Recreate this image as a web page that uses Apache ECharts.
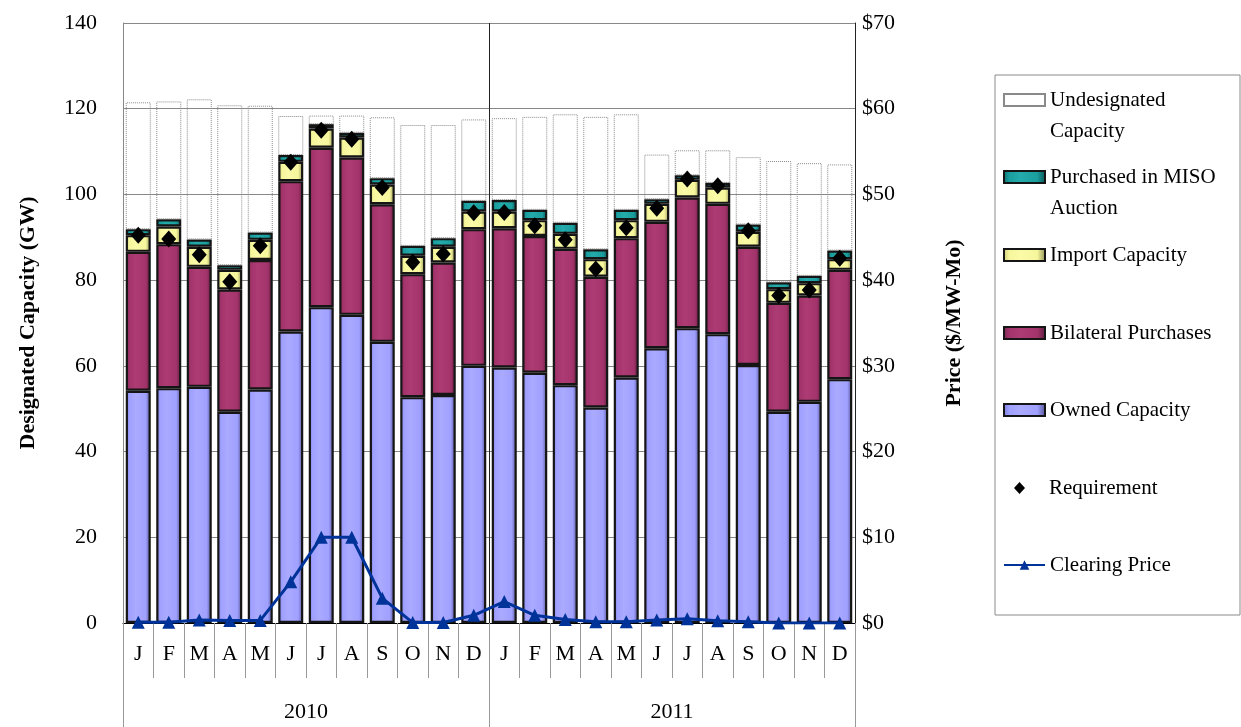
<!DOCTYPE html>
<html>
<head>
<meta charset="utf-8">
<script src="https://cdn.jsdelivr.net/npm/echarts@6/dist/echarts.min.js"></script>
<style>html,body{margin:0;padding:0;background:#fff}#c{width:1241px;height:727px}</style>
</head>
<body>
<div id="c"></div>
<script>
const months = ['J','F','M','A','M','J','J','A','S','O','N','D','J','F','M','A','M','J','J','A','S','O','N','D'];
const years = ['2010','2011'];
const leftTicks = [0,20,40,60,80,100,120,140];
const owned = [54.2,54.8,55.1,49.3,54.5,68.0,73.7,71.9,65.6,52.7,53.2,60.0, 59.6,58.4,55.5,50.3,57.3,64.1,68.8,67.4,60.2,49.3,51.6,56.9];
const bilateral = [32.4,33.6,28.0,28.5,30.2,35.1,37.2,36.7,32.1,28.7,30.9,31.9, 32.5,31.9,31.8,30.5,32.5,29.5,30.5,30.4,27.6,25.4,24.8,25.5];
const importCap = [3.9,4.1,4.7,4.6,4.7,4.5,4.5,4.7,4.6,4.3,3.7,4.1, 3.9,3.7,3.5,4.1,4.2,4.2,4.1,3.8,3.5,3.2,2.9,2.5];
const misoAuction = [1.4,1.7,1.7,1.1,1.7,1.6,1.0,1.1,1.5,2.3,2.0,2.5, 2.7,2.4,2.6,2.3,2.4,1.1,1.1,1.1,1.7,1.6,1.7,2.0];
const undesignated = [29.6,27.5,32.7,37.3,29.6,9.1,2.0,4.0,14.2,28.2,26.4,19.0, 19.1,21.7,25.3,30.9,22.3,10.4,5.8,7.6,15.7,28.3,26.3,20.1];
const requirement = [90.5,89.6,85.9,79.6,88.0,107.5,115.0,112.9,101.6,84.2,86.1,95.7, 95.8,92.7,89.4,82.6,92.2,96.8,103.6,102.0,91.5,76.4,77.7,85.1];
const clearingPrice = [0.1,0.1,0.35,0.3,0.3,4.8,10,10,2.9,0.05,0.05,0.9, 2.5,0.9,0.4,0.15,0.15,0.35,0.5,0.27,0.15,0,0,0];

const FONT = 'Liberation Serif';
function grad(edge, base, light, dark) {
  return {type:'linear', x:0, y:0, x2:1, y2:0, colorStops:[
    {offset:0, color:edge},{offset:0.15, color:base},{offset:0.4, color:light},
    {offset:0.8, color:base},{offset:1, color:dark}]};
}
function barSeries(name, data, color) {
  return {name, type:'bar', stack:'cap', data, barWidth:25, xAxisIndex:0, yAxisIndex:0,
    itemStyle:{color, borderColor:'#151515', borderWidth:2.2}, emphasis:{disabled:true}};
}
const series = [
  barSeries('Owned Capacity', owned, grad('#7a7ad8','#a0a0ff','#aaaaff','#50508c')),
  barSeries('Bilateral Purchases', bilateral, grad('#7a2550','#a3346b','#ad3b74','#5a1c3c')),
  barSeries('Import Capacity', importCap, grad('#c8c878','#f6f69c','#fbfba8','#8a8a55')),
  barSeries('Purchased in MISO Auction', misoAuction, grad('#0a6e6e','#1a9e9e','#24abab','#0a4f4f')),
  {name:'Undesignated Capacity', type:'bar', stack:'cap', data:undesignated, barWidth:25,
    itemStyle:{color:'rgba(255,255,255,0)', borderColor:'#8a8a8a', borderWidth:1, borderType:'dotted'}},
  {name:'Requirement', type:'scatter', data:requirement, symbol:'diamond', symbolSize:[15,17],
    itemStyle:{color:'#000', opacity:1}, z:5},
  {name:'Clearing Price', type:'line', yAxisIndex:1, data:clearingPrice, symbol:'triangle', symbolSize:13,
    lineStyle:{color:'#003399', width:3}, itemStyle:{color:'#003399'}, z:6}
];

const legendItems = [
  {name:'Undesignated Capacity', text:' \nUndesignated\nCapacity', cy:100, multi:true},
  {name:'Purchased in MISO Auction', text:' \nPurchased in MISO\nAuction', cy:177, multi:true},
  {name:'Import Capacity', text:'Import Capacity', cy:255},
  {name:'Bilateral Purchases', text:'Bilateral Purchases', cy:333},
  {name:'Owned Capacity', text:'Owned Capacity', cy:410},
  {name:'Requirement', text:'Requirement', cy:488},
  {name:'Clearing Price', text:'Clearing Price', cy:565}
];
const LH = 31;
const legends = legendItems.map(it => ({
  data:[it.name], left:1003, top: it.multi ? it.cy - 1.5*LH : it.cy - 0.5*LH,
  padding:0, itemWidth:41, itemHeight:12, selectedMode:false,
  icon: it.name==='Clearing Price' ? undefined : (it.name==='Requirement' ? 'diamond' : 'rect'),
  formatter: () => it.text,
  textStyle:{fontFamily:FONT, fontSize:21, color:'#000', lineHeight:LH}
}));
legends[5].left = 1014;
legends[5].itemWidth = 11;
legends[5].itemHeight = 12;
legends[5].textStyle = Object.assign({}, legends[5].textStyle, {padding:[0,0,0,19]});

const chart = echarts.init(document.getElementById('c'), null, {renderer:'canvas'});
chart.setOption({
  animation:false,
  backgroundColor:'#fff',
  graphic:[{type:'rect', shape:{x:995, y:75, width:245, height:540}, style:{fill:'#fff', stroke:'#8a8a8a', lineWidth:1}, z:-1, silent:true}],
  legend: legends,
  grid:{left:123, right:386, top:23, bottom:104, containLabel:false},
  xAxis:[
    {type:'category', data:months, position:'bottom',
      axisLine:{show:true, lineStyle:{color:'#000', width:1}},
      axisTick:{show:true, interval:0, length:55, lineStyle:{color:'#999'}},
      axisLabel:{interval:0, margin:20, fontFamily:FONT, fontSize:22, color:'#000'},
      splitLine:{show:false}},
    {type:'category', data:years, position:'bottom',
      axisLine:{show:false},
      axisTick:{show:true, interval:0, length:104, lineStyle:{color:'#999'}},
      axisLabel:{interval:0, margin:78, fontFamily:FONT, fontSize:22, color:'#000'},
      splitLine:{show:true, interval:0, lineStyle:{color:'#222', width:1}}}
  ],
  yAxis:[
    {type:'value', min:leftTicks[0], max:leftTicks[leftTicks.length-1], interval:20, position:'left',
      name:'Designated Capacity (GW)', nameLocation:'middle', nameGap:84, nameRotate:90,
      nameTextStyle:{fontFamily:FONT, fontSize:22, fontWeight:'bold', color:'#000'},
      axisLine:{show:true, lineStyle:{color:'#888'}}, axisTick:{show:false},
      axisLabel:{margin:26, fontFamily:FONT, fontSize:22, color:'#000'},
      splitLine:{show:true, lineStyle:{color:'#888', width:1}}},
    {type:'value', min:0, max:70, interval:10, position:'right',
      name:'Price ($/MW-Mo)', nameLocation:'middle', nameGap:88, nameRotate:90,
      nameTextStyle:{fontFamily:FONT, fontSize:22, fontWeight:'bold', color:'#000'},
      axisLine:{show:true, lineStyle:{color:'#222'}}, axisTick:{show:false},
      axisLabel:{margin:7, fontFamily:FONT, fontSize:22, color:'#000', formatter: v => '$' + v},
      splitLine:{show:false}}
  ],
  series
});
</script>
</body>
</html>
